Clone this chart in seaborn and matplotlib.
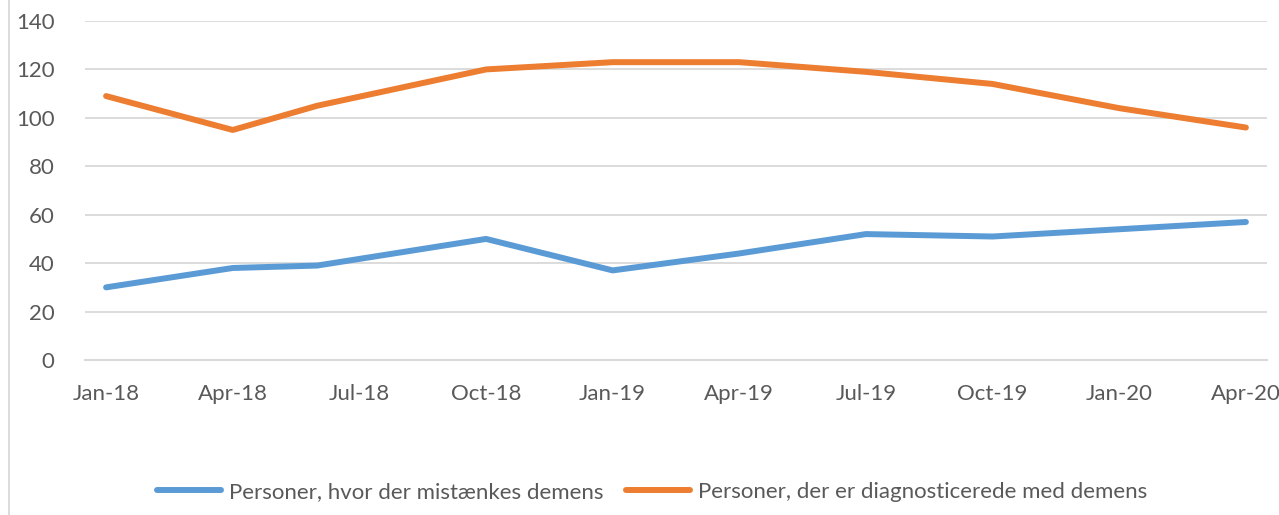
import pandas as pd
import numpy as np
import matplotlib
matplotlib.use("Agg")
import matplotlib.pyplot as plt
import seaborn as sns

# Data
dates = ['2018-01', '2018-04', '2018-06', '2018-10', '2019-01',
         '2019-04', '2019-07', '2019-10', '2020-01', '2020-04']
mistaenkes = [30, 38, 39, 50, 37, 44, 52, 51, 54, 57]
diagnosticerede = [109, 95, 105, 120, 123, 123, 119, 114, 104, 96]
tick_labels = ['Jan-18', 'Apr-18', 'Jul-18', 'Oct-18', 'Jan-19',
               'Apr-19', 'Jul-19', 'Oct-19', 'Jan-20', 'Apr-20']
label_blue = 'Personer, hvor der mistænkes demens'
label_orange = 'Personer, der er diagnosticerede med demens'

sns.set_style("white")
plt.rcParams['font.family'] = ['Lato', 'DejaVu Sans']

# month index from Jan 2018 (Excel date axis, base unit months)
d = pd.to_datetime(dates)
month_idx = (d.year - 2018) * 12 + d.month - 1

df = pd.DataFrame({
    'month': list(month_idx) * 2,
    'value': mistaenkes + diagnosticerede,
    'serie': [label_blue] * len(dates) + [label_orange] * len(dates),
})

fig = plt.figure(figsize=(12.79, 5.15), dpi=100)
ax = fig.add_axes([85 / 1279, 155 / 515, 1182 / 1279, 339 / 515])

sns.lineplot(data=df, x='month', y='value', hue='serie',
             palette=['#5b9bd5', '#ed7d31'], linewidth=4.3,
             solid_capstyle='round', ax=ax, legend=False)

text_col = '#595959'
grid_col = '#d9d9d9'
fs = 16

ax.set_xlim(-0.5, 27.5)
ax.set_ylim(0, 140)
ax.set_yticks(np.arange(0, 141, 20))
ax.yaxis.grid(True, color=grid_col, linewidth=1.3)
ax.set_axisbelow(True)
ax.tick_params(axis='y', length=0, labelsize=fs, labelcolor=text_col, pad=22)

# label positions (month centres) and tick marks (month boundaries)
ax.set_xticks(np.arange(0, 28, 3))
ax.set_xticklabels(tick_labels)
ax.set_xticks(np.arange(-0.5, 27, 3), minor=True)
ax.tick_params(axis='x', which='major', length=0, labelsize=fs,
               labelcolor=text_col, pad=17)
ax.tick_params(axis='x', which='minor', length=7, width=1.3, color=grid_col,
               direction='out')

for s in ['top', 'right', 'left']:
    ax.spines[s].set_visible(False)
ax.spines['bottom'].set_color(grid_col)
ax.spines['bottom'].set_linewidth(1.5)
ax.set_xlabel('')
ax.set_ylabel('')

# chart border on the left
fig.add_artist(plt.Line2D([9 / 1279, 9 / 1279], [0, 1], color=grid_col,
                          linewidth=1.3, transform=fig.transFigure))

handles = [plt.Line2D([], [], color='#5b9bd5', linewidth=4.3, solid_capstyle='round'),
           plt.Line2D([], [], color='#ed7d31', linewidth=4.3, solid_capstyle='round')]
leg = fig.legend(handles, [label_blue, label_orange], loc='center',
                 bbox_to_anchor=(652 / 1279, 1 - 492 / 515), ncol=2, frameon=False,
                 fontsize=fs, handlelength=2.9, handletextpad=0.35, columnspacing=1.0)
for t in leg.get_texts():
    t.set_color(text_col)

fig.savefig('out.png', dpi=100)
